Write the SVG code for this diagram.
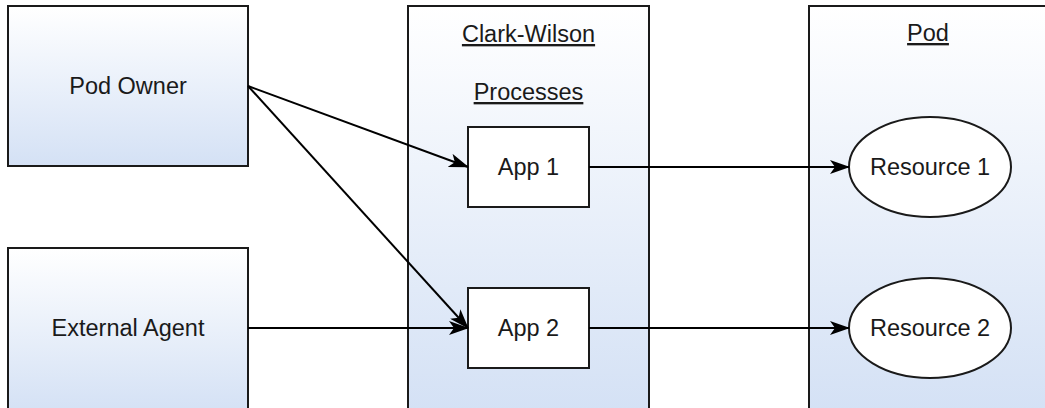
<svg xmlns="http://www.w3.org/2000/svg" width="1045" height="408" viewBox="0 0 1045 408">
  <defs>
    <linearGradient id="boxFill" x1="0" y1="0" x2="0" y2="1">
      <stop offset="0" stop-color="#ffffff"/>
      <stop offset="1" stop-color="#d4e1f5"/>
    </linearGradient>
    <marker id="arrow" viewBox="0 0 20 14" refX="19" refY="7" markerWidth="20" markerHeight="14" markerUnits="userSpaceOnUse" orient="auto">
      <path d="M0,0 L20,7 L0,14 L5,7 Z" fill="#000"/>
    </marker>
  </defs>
  <style>
    .box { fill: url(#boxFill); stroke: #1a1a1a; stroke-width: 2; }
    .plain { fill: #ffffff; stroke: #1a1a1a; stroke-width: 2; }
    .label { font-family: "Liberation Sans", Arial, sans-serif; font-size: 23.5px; fill: #1a1a1a; text-anchor: middle; }
    .title { text-decoration: underline; }
    .link { fill: none; stroke: #000; stroke-width: 2; marker-end: url(#arrow); }
  </style>
  <rect x="0" y="0" width="1045" height="408" fill="#ffffff"/>

  <g id="pod-owner">
    <rect class="box" x="8" y="6" width="240" height="160"/>
    <text class="label" x="128" y="94">Pod Owner</text>
  </g>

  <g id="external-agent">
    <rect class="box" x="8" y="248" width="240" height="164"/>
    <text class="label" x="128" y="336">External Agent</text>
  </g>

  <g id="clark-wilson">
    <rect class="box" x="408" y="6" width="241" height="406"/>
    <text class="label title" x="528.5" y="42">Clark-Wilson</text>
    <text class="label title" x="528.5" y="100">Processes</text>
  </g>

  <g id="pod">
    <rect class="box" x="809" y="6" width="240" height="406"/>
    <text class="label title" x="928" y="41">Pod</text>
  </g>

  <g id="app1">
    <rect class="plain" x="468" y="127" width="121" height="80"/>
    <text class="label" x="528.5" y="175">App 1</text>
  </g>

  <g id="app2">
    <rect class="plain" x="468" y="288" width="121" height="80"/>
    <text class="label" x="528.5" y="336">App 2</text>
  </g>

  <g id="resource1">
    <ellipse class="plain" cx="930" cy="167" rx="81" ry="50"/>
    <text class="label" x="930" y="175">Resource 1</text>
  </g>

  <g id="resource2">
    <ellipse class="plain" cx="930" cy="328" rx="81" ry="50"/>
    <text class="label" x="930" y="336">Resource 2</text>
  </g>

  <g id="connectors">
    <line class="link" x1="248" y1="86" x2="468" y2="167"/>
    <line class="link" x1="248" y1="86" x2="468" y2="328"/>
    <line class="link" x1="248" y1="328" x2="468" y2="328"/>
    <line class="link" x1="589" y1="167" x2="849" y2="167"/>
    <line class="link" x1="589" y1="328" x2="849" y2="328"/>
  </g>
</svg>
